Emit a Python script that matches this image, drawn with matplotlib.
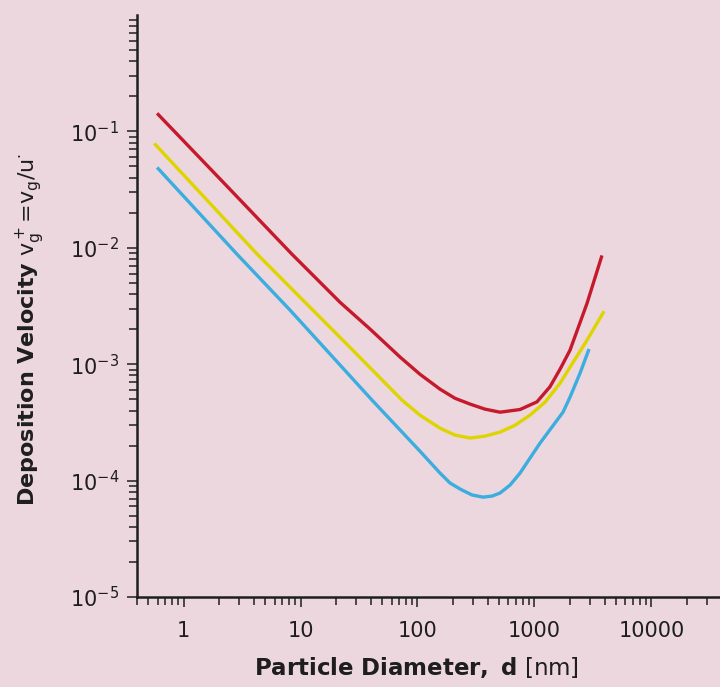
import numpy as np
import matplotlib
matplotlib.use("Agg")
import matplotlib.pyplot as plt
from matplotlib.ticker import FixedLocator, LogLocator, NullFormatter

# curve values (diameter in nm, v_g+ dimensionless)
d_red = [0.594, 2.27, 8.47, 21.8, 39.4, 71.1, 105, 156, 209, 282, 378, 508, 753,
         1052, 1358, 1656, 2015, 2818, 3780]
v_red = [0.143, 0.0351, 8.79e-3, 3.40e-3, 2.0e-3, 1.15e-3, 8.20e-4, 6.1e-4, 5.10e-4,
         4.54e-4, 4.11e-4, 3.87e-4, 4.08e-4, 4.75e-4, 6.40e-4, 9.06e-4, 1.32e-3,
         3.34e-3, 8.6e-3]

d_yellow = [0.562, 4.27, 8.15, 24.5, 73.8, 105, 156, 209, 282, 378, 508, 683, 916,
            1233, 1656, 2015, 2818, 3936]
v_yellow = [0.0789, 8.8e-3, 4.58e-3, 1.51e-3, 4.91e-4, 3.65e-4, 2.82e-4, 2.46e-4,
            2.32e-4, 2.41e-4, 2.61e-4, 2.99e-4, 3.65e-4, 4.72e-4, 6.87e-4, 9.42e-4,
            1.61e-3, 2.85e-3]

d_blue = [0.594, 2.87, 8.15, 40.9, 105, 156, 190, 232, 293, 364, 434, 508, 618, 753,
          916, 1117, 1754, 2015, 2455, 2931]
v_blue = [0.049, 8.79e-3, 2.91e-3, 4.91e-4, 1.79e-4, 1.16e-4, 9.53e-5, 8.45e-5,
          7.52e-5, 7.21e-5, 7.36e-5, 7.82e-5, 9.14e-5, 1.16e-4, 1.56e-4, 2.10e-4,
          3.87e-4, 5.21e-4, 8.38e-4, 1.35e-3]

x_ticks = [1, 10, 100, 1000, 10000]
x_labels = ["1", "10", "100", "1000", "10000"]
y_ticks = [1e-5, 1e-4, 1e-3, 1e-2, 1e-1]
y_labels = [r"$10^{-5}$", r"$10^{-4}$", r"$10^{-3}$", r"$10^{-2}$", r"$10^{-1}$"]

bg = "#ecd7df"
ink = "#1e1e1e"

fig = plt.figure(figsize=(7.2, 6.87), dpi=100, facecolor=bg)
ax = fig.add_axes([137 / 720, 90 / 687, 1 - 137 / 720, (597 - 15) / 687])
ax.set_facecolor(bg)

line_kw = dict(lw=2.4, solid_joinstyle="round", solid_capstyle="butt")
ax.plot(d_red, v_red, color="#c51a2c", **line_kw)
ax.plot(d_yellow, v_yellow, color="#ded400", **line_kw)
ax.plot(d_blue, v_blue, color="#3badde", **line_kw)

ax.set_xscale("log")
ax.set_yscale("log")
ax.set_xlim(0.4, 38600)
ax.set_ylim(1e-5, 1)

for side in ["top", "right"]:
    ax.spines[side].set_visible(False)
for side in ["left", "bottom"]:
    ax.spines[side].set_linewidth(1.8)
    ax.spines[side].set_color(ink)

ax.xaxis.set_major_locator(FixedLocator(x_ticks))
ax.set_xticklabels(x_labels)
ax.yaxis.set_major_locator(FixedLocator(y_ticks))
ax.set_yticklabels(y_labels)
ax.xaxis.set_minor_locator(LogLocator(base=10, subs=np.arange(2, 10), numticks=20))
ax.yaxis.set_minor_locator(LogLocator(base=10, subs=np.arange(2, 10), numticks=20))
ax.xaxis.set_minor_formatter(NullFormatter())
ax.yaxis.set_minor_formatter(NullFormatter())

ax.tick_params(axis="both", which="both", direction="out", color=ink, width=1.1)
ax.tick_params(axis="both", which="major", length=7, labelsize=15, labelcolor=ink)
ax.tick_params(axis="both", which="minor", length=6)
ax.tick_params(axis="x", which="major", pad=10)
ax.tick_params(axis="y", which="major", pad=6)

ax.set_xlabel(r"$\mathbf{Particle\ Diameter,\ d}$ [nm]", fontsize=16.5, color=ink)
ax.set_ylabel(r"$\mathbf{Deposition\ Velocity}$ v$_\mathrm{g}^+$=v$_\mathrm{g}$/u$^{\cdot}$",
              fontsize=16, color=ink)
ax.xaxis.set_label_coords(0.48, -0.100)
ax.yaxis.set_label_coords(-0.155, 0.46)

plt.savefig("out.png", dpi=100, facecolor=bg)
